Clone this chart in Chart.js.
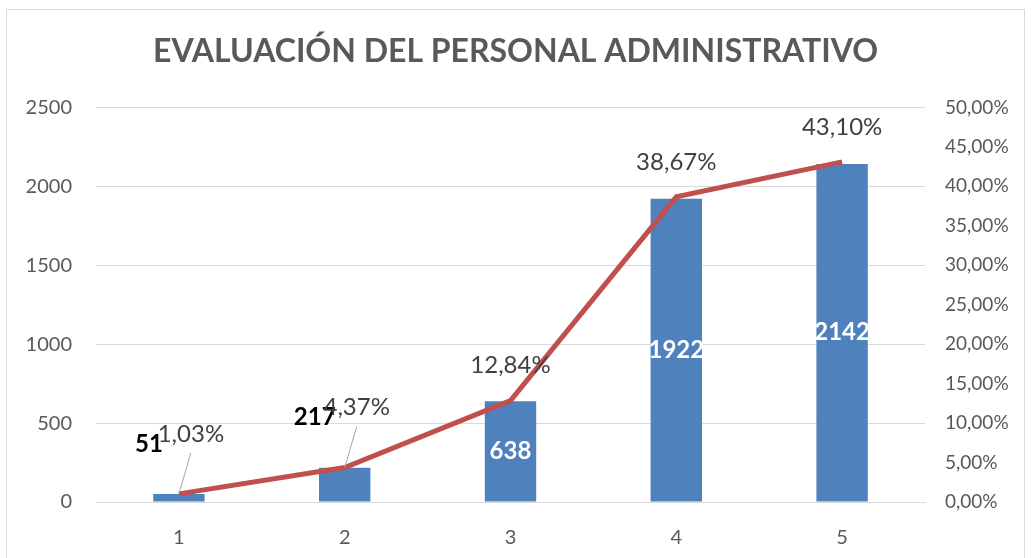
<!DOCTYPE html>
<html>
<head>
<meta charset="utf-8">
<script src="https://cdn.jsdelivr.net/npm/chart.js@4"></script>
<style>
  html, body { margin: 0; padding: 0; background: #fff; }
  #wrap { width: 1031px; height: 558px; }
</style>
</head>
<body>
<div id="wrap"><canvas id="evalChart" width="1031" height="558"></canvas></div>
<script>
const categories = ['1', '2', '3', '4', '5'];
const counts = [51, 217, 638, 1922, 2142];
const percents = [0.0103, 0.0437, 0.1284, 0.3867, 0.4310];

const FONT = 'Lato, "Open Sans", sans-serif';
const fmtPct = v => (v * 100).toFixed(2).replace('.', ',') + '%';

// frame + data labels
const labelsPlugin = {
    id: 'labels',
    beforeDraw(chart) {
        const ctx = chart.ctx;
        ctx.save();
        ctx.strokeStyle = '#d9d9d9';
        ctx.lineWidth = 1;
        ctx.strokeRect(6.5, 9.5, 1018, 560);
        ctx.restore();
    },
    afterDatasetsDraw(chart) {
        const ctx = chart.ctx;
        const bars = chart.getDatasetMeta(0).data;
        const pts = chart.getDatasetMeta(1).data;
        ctx.save();
        ctx.textAlign = 'center';
        ctx.textBaseline = 'middle';
        const outside = [];
        bars.forEach((b, i) => {
            const h = b.base - b.y;
            ctx.font = 'bold 24px ' + FONT;
            if (h > 60) {
                ctx.fillStyle = '#ffffff';
                ctx.fillText(counts[i], b.x, (b.y + b.base) / 2);
                outside.push(false);
            } else {
                ctx.fillStyle = '#000000';
                ctx.fillText(counts[i], b.x - 30, b.y - 50);
                outside.push(true);
            }
        });
        pts.forEach((p, i) => {
            ctx.font = '24px ' + FONT;
            ctx.fillStyle = '#404040';
            if (outside[i]) {
                const lx = p.x + 12, ly = p.y - 60;
                ctx.fillText(fmtPct(percents[i]), lx, ly);
                ctx.strokeStyle = '#a6a6a6';
                ctx.lineWidth = 1;
                ctx.beginPath();
                ctx.moveTo(lx, ly + 19);
                ctx.lineTo(p.x, p.y);
                ctx.stroke();
            } else {
                ctx.fillText(fmtPct(percents[i]), p.x, p.y - 35);
            }
        });
        ctx.restore();
    }
};

const ctx = document.getElementById('evalChart').getContext('2d');
new Chart(ctx, {
    data: {
        labels: categories,
        datasets: [{
            type: 'bar',
            data: counts,
            backgroundColor: '#4F81BD',
            yAxisID: 'y',
            barPercentage: 0.62,
            categoryPercentage: 0.5,
            order: 2
        }, {
            type: 'line',
            data: percents,
            borderColor: '#C0504D',
            borderWidth: 5,
            pointRadius: 0,
            tension: 0,
            yAxisID: 'y1',
            order: 1
        }]
    },
    options: {
        responsive: false,
        animation: false,
        layout: { padding: { left: 0, right: 0, top: 0, bottom: 0 } },
        plugins: {
            legend: { display: false },
            tooltip: { enabled: false },
            title: {
                display: true,
                text: 'EVALUACIÓN DEL PERSONAL ADMINISTRATIVO',
                color: '#595959',
                font: { family: FONT, size: 32, weight: 'bold' },
                padding: { top: 32, bottom: 37 }
            }
        },
        scales: {
            x: {
                grid: { display: false },
                border: { display: true, color: '#d9d9d9' },
                ticks: { color: '#595959', font: { family: FONT, size: 20 }, padding: 16 },
                afterFit(s) { s.height = 56; }
            },
            y: {
                position: 'left',
                min: 0, max: 2500,
                ticks: {
                    stepSize: 500, color: '#595959', font: { family: FONT, size: 20 }, padding: 24,
                    callback: v => String(v)
                },
                grid: { color: '#d9d9d9', drawTicks: false },
                border: { display: false },
                afterFit(s) { s.width = 96; }
            },
            y1: {
                position: 'right',
                min: 0, max: 0.5,
                ticks: {
                    stepSize: 0.05, color: '#595959', font: { family: FONT, size: 19 }, padding: 20,
                    callback: v => fmtPct(v)
                },
                grid: { display: false, drawTicks: false },
                border: { display: false },
                afterFit(s) { s.width = 106; }
            }
        }
    },
    plugins: [labelsPlugin]
});
</script>
</body>
</html>
